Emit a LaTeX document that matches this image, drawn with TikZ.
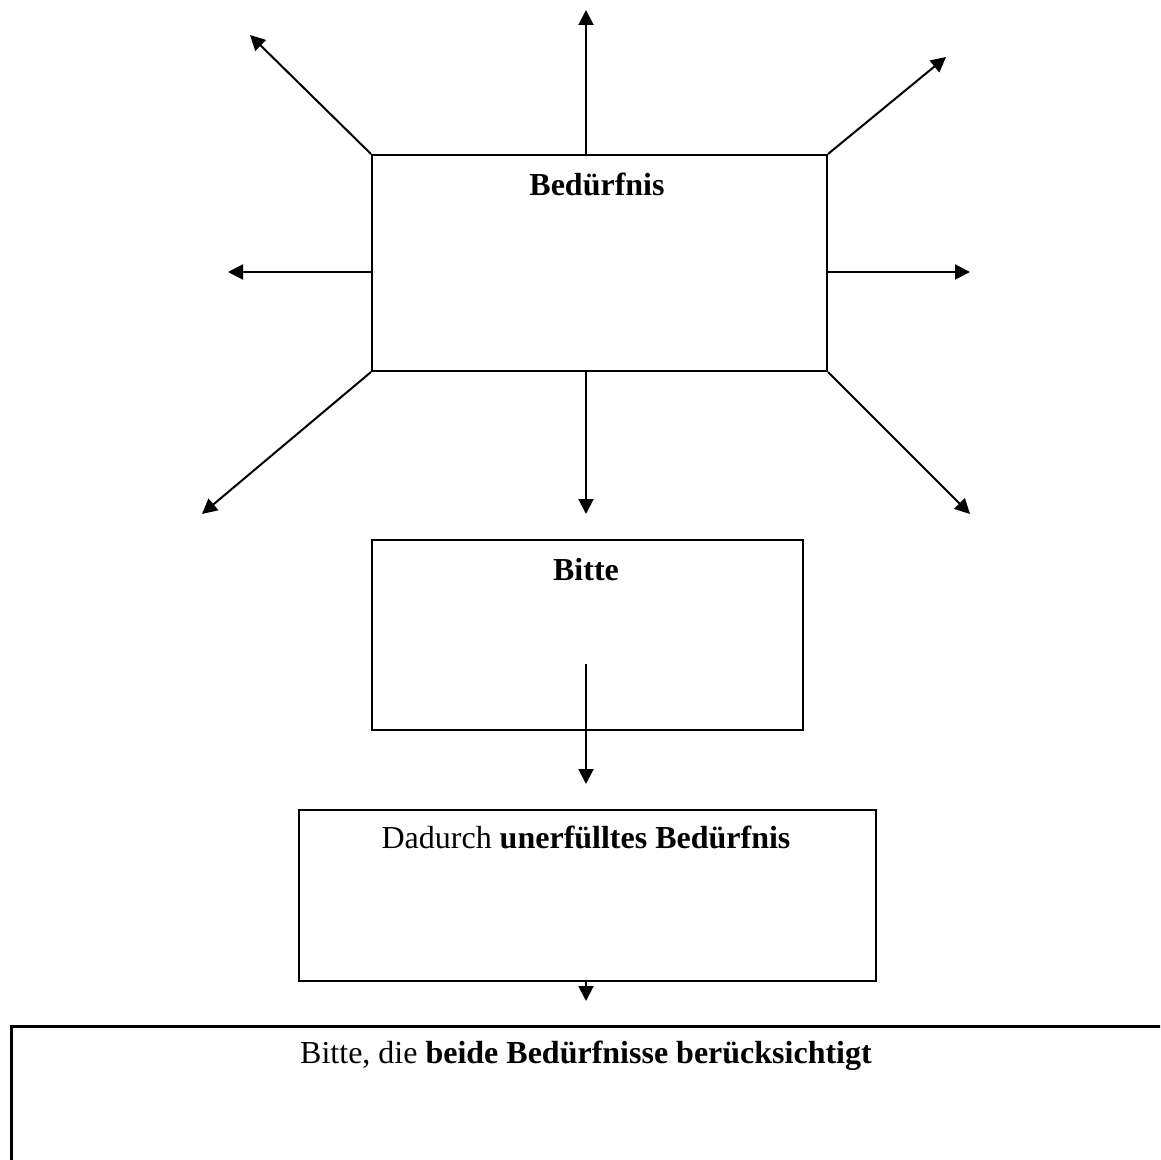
\documentclass[tikz,border=0pt]{standalone}
\usepackage{fontspec}
\setmainfont{Liberation Serif}
\usetikzlibrary{arrows.meta}
\begin{document}
\begin{tikzpicture}[x=0.5pt,y=-0.5pt,
  box/.style={draw,line width=1pt,inner sep=0pt,anchor=north west},
  arr/.style={line width=1pt,-{Triangle[length=7.5pt,width=7.5pt]}},
  txt/.style={font=\fontsize{16}{19}\selectfont,anchor=base,inner sep=0pt}]
\useasboundingbox (0,0) rectangle (1160,1160);
\clip (0,0) rectangle (1160,1160);
% boxes
\node[box,minimum width=227.5pt,minimum height=108pt] (b1) at (371,154) {};
\node[box,minimum width=215.5pt,minimum height=95pt] (b2) at (371,539) {};
\node[box,minimum width=288.5pt,minimum height=85.5pt] (b3) at (298,809) {};
\node[box,line width=1.4pt,minimum width=600pt,minimum height=100pt] (b4) at (10,1025) {};
% texts
\node[txt] (t1) at (597,196) {\textbf{Bedürfnis}};
\node[txt] (t2) at (586,580) {\textbf{Bitte}};
\node[txt] (t3) at (586,848) {Dadurch \textbf{unerfülltes Bedürfnis}};
\node[txt] (t4) at (586,1063) {Bitte, die \textbf{beide Bedürfnisse berücksichtigt}};
% coordinates
\coordinate (s1) at (586,154);
\coordinate (s2) at (371,272);
\coordinate (s3) at (826,272);
\coordinate (s4) at (586,370);
\coordinate (s5) at (586,664);
\coordinate (s6) at (586,980);
\coordinate (e1) at (586,10);
\coordinate (e2) at (250,35);
\coordinate (e3) at (946,57);
\coordinate (e4) at (228,272);
\coordinate (e5) at (970,272);
\coordinate (e6) at (202,514);
\coordinate (e7) at (586,514);
\coordinate (e8) at (970,514);
\coordinate (e9) at (586,784);
\coordinate (e10) at (586,1001);
% arrows
\draw[arr] (s1) -- (e1);
\draw[arr] (b1.north west) -- (e2);
\draw[arr] (b1.north east) -- (e3);
\draw[arr] (s2) -- (e4);
\draw[arr] (s3) -- (e5);
\draw[arr] (b1.south west) -- (e6);
\draw[arr] (s4) -- (e7);
\draw[arr] (b1.south east) -- (e8);
\draw[arr] (s5) -- (e9);
\draw[arr] (s6) -- (e10);
\end{tikzpicture}
\end{document}
